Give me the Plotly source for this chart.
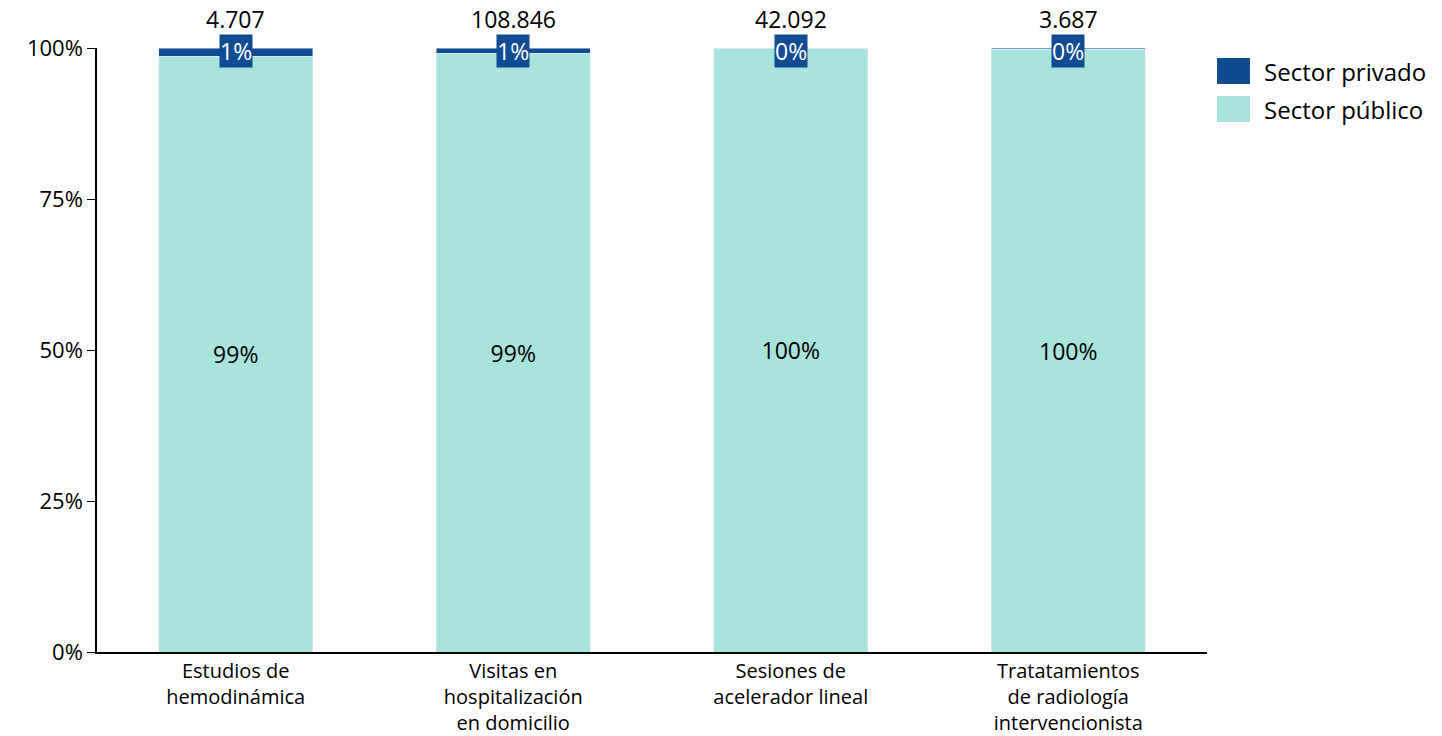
import plotly.graph_objects as go

categories = ["Estudios de<br>hemodinámica", "Visitas en<br>hospitalización<br>en domicilio",
              "Sesiones de<br>acelerador lineal", "Tratatamientos<br>de radiología<br>intervencionista"]
publico = [98.6, 99.1, 99.98, 99.8]
privado = [1.4, 0.9, 0.02, 0.2]
totales = ["4.707", "108.846", "42.092", "3.687"]
tick_vals = [0, 25, 50, 75, 100]
tick_text = ["0%", "25%", "50%", "75%", "100%"]
legend_names = ["Sector privado", "Sector público"]

FONT = "Open Sans"
C_PRIV = "#114b91"
C_PUB = "#a8e3dc"

fig = go.Figure()
fig.add_trace(go.Bar(
    x=categories, y=publico, name="Sector público", marker_color=C_PUB,
    text=[f"{round(v)}%" for v in publico], textposition="inside",
    insidetextanchor="middle", textfont=dict(color="black", size=23, family=FONT),
    width=0.555, hoverinfo="skip", showlegend=False))
fig.add_trace(go.Bar(
    x=categories, y=privado, name="Sector privado", marker_color=C_PRIV,
    width=0.555, hoverinfo="skip", showlegend=False))

for c, p, t in zip(categories, privado, totales):
    fig.add_annotation(x=c, y=100, text=f"{round(p)}%", showarrow=False,
                       font=dict(color="white", size=23, family=FONT),
                       bgcolor=C_PRIV, borderpad=0, yanchor="middle", yshift=-3)
    fig.add_annotation(x=c, y=100, text=t, showarrow=False,
                       font=dict(color="black", size=23, family=FONT),
                       yanchor="bottom", yshift=11)

# custom legend (larger swatches, as in the reference)
for name, col, (y0, y1) in zip(legend_names, [C_PRIV, C_PUB], [(0.9834, 0.9404), (0.9205, 0.8775)]):
    fig.add_shape(type="rect", xref="paper", yref="paper", x0=1.009, x1=1.0387,
                  y0=y1, y1=y0, fillcolor=col, line=dict(width=0))
    fig.add_annotation(xref="paper", yref="paper", x=1.0495, y=(y0 + y1) / 2,
                       text=name, showarrow=False, xanchor="left", yanchor="middle",
                       font=dict(color="black", size=24, family=FONT))

fig.update_layout(
    barmode="stack", width=1442, height=736,
    margin=dict(l=97, r=235, t=48, b=84),
    plot_bgcolor="white", paper_bgcolor="white",
    font=dict(family=FONT, size=22, color="black"),
    showlegend=False,
    xaxis=dict(showline=True, linecolor="black", linewidth=1.5, ticks="",
               range=[-0.5, 3.5], tickfont=dict(size=20, family=FONT),
               automargin=False),
    yaxis=dict(range=[0, 100], tickvals=tick_vals, ticktext=tick_text, showgrid=False,
               showline=True, linecolor="black", linewidth=1.5, ticks="outside",
               ticklen=8, tickcolor="black", zeroline=False, automargin=False,
               tickfont=dict(size=22, family=FONT)),
)

fig.write_html("out.html", config={"displayModeBar": False},
               post_script="document.body.style.margin='0';document.body.style.overflow='hidden';")
